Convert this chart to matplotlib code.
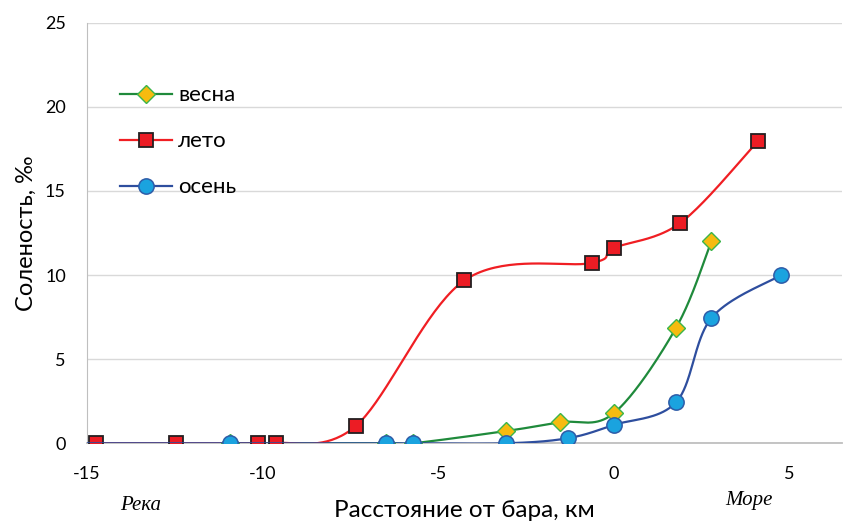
import numpy as np
import matplotlib
matplotlib.use("Agg")
import matplotlib.pyplot as plt
from matplotlib.lines import Line2D

# Salinity along the estuary (distance from the bar, km; salinity, ‰)
spring_x = [-10.92, -6.48, -5.72, -3.06, -1.54, 0.0, 1.78, 2.78]
spring_y = [0.0, 0.0, 0.0, 0.73, 1.25, 1.78, 6.88, 12.0]

summer_x = [-14.74, -12.47, -10.11, -9.62, -7.34, -4.25, -0.62, 0.0, 1.90, 4.10]
summer_y = [0.0, 0.0, 0.0, 0.0, 1.03, 9.68, 10.72, 11.6, 13.1, 17.95]

autumn_x = [-15.4, -10.92, -6.48, -5.72, -3.06, -1.31, 0.0, 1.78, 2.78, 4.75]
autumn_y = [0.0, 0.0, 0.0, 0.0, 0.0, 0.30, 1.09, 2.45, 7.44, 9.98]

labels = ["весна", "лето", "осень"]
x_ticks = [-15, -10, -5, 0, 5]
y_ticks = [0, 5, 10, 15, 20, 25]

FONT = ["Lato", "Noto Sans", "DejaVu Sans"]
plt.rcParams["font.family"] = FONT
plt.rcParams["axes.unicode_minus"] = False


def smooth(xs, ys, n=40):
    """Catmull-Rom style cubic Bezier through all points."""
    p = np.column_stack([xs, ys]).astype(float)
    pts = np.vstack([p[0], p, p[-1]])
    out = []
    t = np.linspace(0, 1, n)[:, None]
    for i in range(1, len(pts) - 2):
        p0, p1, p2, p3 = pts[i - 1], pts[i], pts[i + 1], pts[i + 2]
        c1 = p1 + (p2 - p0) / 6.0
        c2 = p2 - (p3 - p1) / 6.0
        seg = ((1 - t) ** 3) * p1 + 3 * ((1 - t) ** 2) * t * c1 \
            + 3 * (1 - t) * t ** 2 * c2 + t ** 3 * p2
        out.append(seg if i == 1 else seg[1:])
    s = np.vstack(out)
    return s[:, 0], s[:, 1]


fig = plt.figure(figsize=(8.49, 5.23), dpi=100)
ax = fig.add_axes([0.1021, 0.1524, 0.8897, 0.8042])
ax.set_xlim(-15, 6.5)
ax.set_ylim(0, 25)

ax.set_yticks(y_ticks)
ax.set_xticks(x_ticks)
ax.grid(axis="y", color="#D9D9D9", linewidth=1.0)
ax.set_axisbelow(True)
for s in ("top", "right"):
    ax.spines[s].set_visible(False)
ax.spines["left"].set_color("#BFBFBF")
ax.spines["bottom"].set_color("#BFBFBF")
ax.spines["bottom"].set_linewidth(1.3)
ax.tick_params(length=0, labelsize=13, colors="#000000")
ax.tick_params(axis="x", pad=16)
ax.tick_params(axis="y", pad=15)

series = [
    (spring_x, spring_y, dict(color="#1F8A3B", marker="D", mfc="#F6BB10", mec="#3BB54A", ms=9.5, mew=1.0), 3),
    (summer_x, summer_y, dict(color="#F01E23", marker="s", mfc="#EC1C24", mec="#231F20", ms=10.5, mew=1.3), 4),
    (autumn_x, autumn_y, dict(color="#2E4E9E", marker="o", mfc="#1AA3DF", mec="#2E5CA8", ms=11, mew=1.1), 5),
]

handles = []
for (xs, ys, st, z), lab in zip(series, labels):
    sx, sy = smooth(xs, ys)
    ax.plot(sx, sy, color=st["color"], lw=1.6, zorder=z, solid_capstyle="round")
    ax.plot(xs, ys, ls="none", marker=st["marker"], mfc=st["mfc"], mec=st["mec"],
            ms=st["ms"], mew=st["mew"], zorder=z + 0.5)
    handles.append(Line2D([], [], color=st["color"], lw=1.6, marker=st["marker"],
                          mfc=st["mfc"], mec=st["mec"], ms=st["ms"], mew=st["mew"]))

leg = ax.legend(handles, labels, loc="upper left", bbox_to_anchor=(0.044, 0.851),
                frameon=False, fontsize=16, handlelength=2.34, handletextpad=0.27,
                labelspacing=1.17, borderaxespad=0, borderpad=0)

ax.set_xlabel("Расстояние от бара, км", fontsize=17.5, labelpad=13)
ax.set_ylabel("Соленость, ‰", fontsize=17, labelpad=6)

fig.text(141 / 849, 1 - 506 / 523, "Река", fontsize=15, style="italic",
         family="Liberation Serif", ha="center", va="center")
fig.text(749 / 849, 1 - 500 / 523, "Море", fontsize=15, style="italic",
         family="Liberation Serif", ha="center", va="center")

fig.savefig("out.png", dpi=100)
